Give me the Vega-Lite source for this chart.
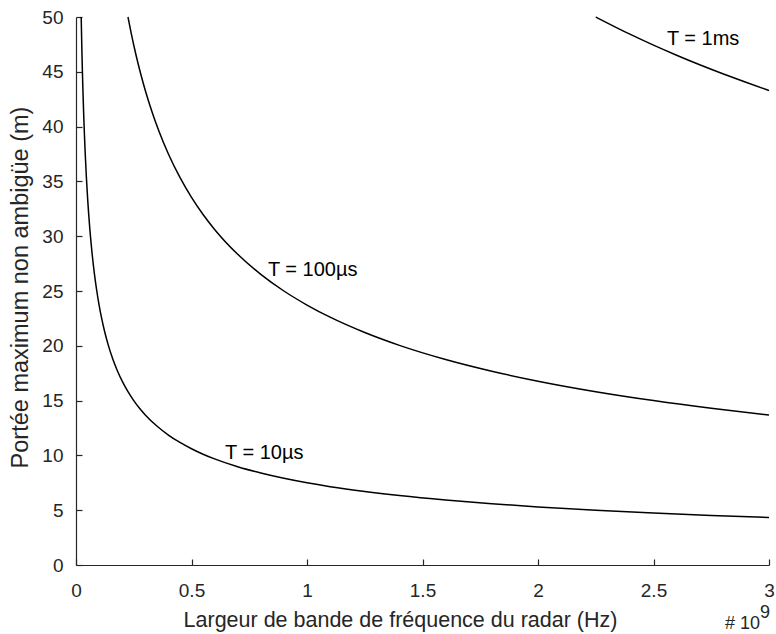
{
  "$schema": "https://vega.github.io/schema/vega-lite/v6.json",
  "width": 693,
  "height": 548,
  "autosize": "none",
  "padding": {"left": 76, "top": 17, "right": 7, "bottom": 69},
  "background": "white",
  "config": {
    "view": {"stroke": null},
    "font": "Liberation Sans",
    "axis": {
      "grid": false,
      "domainColor": "#262626",
      "domainWidth": 1.2,
      "tickColor": "#262626",
      "tickWidth": 1.2,
      "tickSize": -6,
      "labelColor": "#262626",
      "labelFont": "Liberation Sans",
      "labelFontSize": 19,
      "labelFlush": false,
      "labelOverlap": false,
      "titleColor": "#262626",
      "titleFont": "Liberation Sans",
      "titleFontSize": 21.5,
      "titleFontWeight": "normal"
    }
  },
  "datasets": {
    "curves": [
      {"x": 0.0225, "y": 50.0, "T": "10us"},
      {"x": 0.024, "y": 48.41, "T": "10us"},
      {"x": 0.026, "y": 46.51, "T": "10us"},
      {"x": 0.028, "y": 44.82, "T": "10us"},
      {"x": 0.03, "y": 43.30, "T": "10us"},
      {"x": 0.033, "y": 41.29, "T": "10us"},
      {"x": 0.036, "y": 39.53, "T": "10us"},
      {"x": 0.04, "y": 37.5, "T": "10us"},
      {"x": 0.045, "y": 35.36, "T": "10us"},
      {"x": 0.05, "y": 33.54, "T": "10us"},
      {"x": 0.055, "y": 31.98, "T": "10us"},
      {"x": 0.06, "y": 30.62, "T": "10us"},
      {"x": 0.07, "y": 28.35, "T": "10us"},
      {"x": 0.08, "y": 26.52, "T": "10us"},
      {"x": 0.09, "y": 25.0, "T": "10us"},
      {"x": 0.1, "y": 23.72, "T": "10us"},
      {"x": 0.11, "y": 22.61, "T": "10us"},
      {"x": 0.125, "y": 21.21, "T": "10us"},
      {"x": 0.14, "y": 20.04, "T": "10us"},
      {"x": 0.16, "y": 18.75, "T": "10us"},
      {"x": 0.18, "y": 17.68, "T": "10us"},
      {"x": 0.2, "y": 16.77, "T": "10us"},
      {"x": 0.225, "y": 15.81, "T": "10us"},
      {"x": 0.25, "y": 15.0, "T": "10us"},
      {"x": 0.275, "y": 14.30, "T": "10us"},
      {"x": 0.3, "y": 13.69, "T": "10us"},
      {"x": 0.35, "y": 12.68, "T": "10us"},
      {"x": 0.4, "y": 11.86, "T": "10us"},
      {"x": 0.45, "y": 11.18, "T": "10us"},
      {"x": 0.5, "y": 10.61, "T": "10us"},
      {"x": 0.55, "y": 10.11, "T": "10us"},
      {"x": 0.6, "y": 9.68, "T": "10us"},
      {"x": 0.7, "y": 8.96, "T": "10us"},
      {"x": 0.8, "y": 8.39, "T": "10us"},
      {"x": 0.9, "y": 7.91, "T": "10us"},
      {"x": 1.0, "y": 7.5, "T": "10us"},
      {"x": 1.1, "y": 7.15, "T": "10us"},
      {"x": 1.25, "y": 6.71, "T": "10us"},
      {"x": 1.4, "y": 6.34, "T": "10us"},
      {"x": 1.6, "y": 5.93, "T": "10us"},
      {"x": 1.8, "y": 5.59, "T": "10us"},
      {"x": 2.0, "y": 5.30, "T": "10us"},
      {"x": 2.25, "y": 5.0, "T": "10us"},
      {"x": 2.5, "y": 4.74, "T": "10us"},
      {"x": 2.75, "y": 4.52, "T": "10us"},
      {"x": 3.0, "y": 4.33, "T": "10us"},
      {"x": 0.225, "y": 50.0, "T": "100us"},
      {"x": 0.24, "y": 48.41, "T": "100us"},
      {"x": 0.26, "y": 46.51, "T": "100us"},
      {"x": 0.28, "y": 44.82, "T": "100us"},
      {"x": 0.3, "y": 43.30, "T": "100us"},
      {"x": 0.33, "y": 41.29, "T": "100us"},
      {"x": 0.36, "y": 39.53, "T": "100us"},
      {"x": 0.4, "y": 37.5, "T": "100us"},
      {"x": 0.45, "y": 35.36, "T": "100us"},
      {"x": 0.5, "y": 33.54, "T": "100us"},
      {"x": 0.55, "y": 31.98, "T": "100us"},
      {"x": 0.6, "y": 30.62, "T": "100us"},
      {"x": 0.7, "y": 28.35, "T": "100us"},
      {"x": 0.8, "y": 26.52, "T": "100us"},
      {"x": 0.9, "y": 25.0, "T": "100us"},
      {"x": 1.0, "y": 23.72, "T": "100us"},
      {"x": 1.1, "y": 22.61, "T": "100us"},
      {"x": 1.25, "y": 21.21, "T": "100us"},
      {"x": 1.4, "y": 20.04, "T": "100us"},
      {"x": 1.6, "y": 18.75, "T": "100us"},
      {"x": 1.8, "y": 17.68, "T": "100us"},
      {"x": 2.0, "y": 16.77, "T": "100us"},
      {"x": 2.25, "y": 15.81, "T": "100us"},
      {"x": 2.5, "y": 15.0, "T": "100us"},
      {"x": 2.75, "y": 14.30, "T": "100us"},
      {"x": 3.0, "y": 13.69, "T": "100us"},
      {"x": 2.25, "y": 50.0, "T": "1ms"},
      {"x": 2.4, "y": 48.41, "T": "1ms"},
      {"x": 2.5, "y": 47.43, "T": "1ms"},
      {"x": 2.6, "y": 46.51, "T": "1ms"},
      {"x": 2.7, "y": 45.64, "T": "1ms"},
      {"x": 2.8, "y": 44.82, "T": "1ms"},
      {"x": 2.9, "y": 44.04, "T": "1ms"},
      {"x": 3.0, "y": 43.30, "T": "1ms"}
    ],
    "labels": [
      {"x": 2.558, "y": 48.0, "text": "T = 1ms"},
      {"x": 0.831, "y": 26.9, "text": "T = 100µs"},
      {"x": 0.645, "y": 10.26, "text": "T = 10µs"}
    ]
  },
  "layer": [
    {
      "data": {"name": "curves"},
      "mark": {"type": "line", "color": "black", "strokeWidth": 1.5, "interpolate": "monotone"},
      "encoding": {
        "x": {
          "field": "x", "type": "quantitative",
          "scale": {"domain": [0, 3], "nice": false},
          "axis": {"values": [0, 0.5, 1, 1.5, 2, 2.5, 3], "format": "~g", "title": "Largeur de bande de fréquence du radar (Hz)", "labelPadding": 22, "titlePadding": 9, "titleX": 324}
        },
        "y": {
          "field": "y", "type": "quantitative",
          "scale": {"domain": [0, 50], "nice": false},
          "axis": {"values": [0, 5, 10, 15, 20, 25, 30, 35, 40, 45, 50], "title": "Portée maximum non ambigüe (m)", "titleFontSize": 23.5, "labelPadding": 19, "titlePadding": 9, "titleY": 270}
        },
        "detail": {"field": "T", "type": "nominal"}
      }
    },
    {
      "data": {"name": "labels"},
      "mark": {"type": "text", "align": "left", "baseline": "middle", "fontSize": 20, "font": "Liberation Sans", "color": "black"},
      "encoding": {
        "x": {"field": "x", "type": "quantitative"},
        "y": {"field": "y", "type": "quantitative"},
        "text": {"field": "text"}
      }
    },
    {
      "data": {"values": [{"t": "# 10"}]},
      "mark": {"type": "text", "align": "right", "baseline": "alphabetic", "fontSize": 18, "font": "Liberation Sans", "color": "#262626", "dx": -9, "dy": 64},
      "encoding": {
        "x": {"datum": 3},
        "y": {"datum": 0},
        "text": {"field": "t"}
      }
    },
    {
      "data": {"values": [{"t": "9"}]},
      "mark": {"type": "text", "align": "right", "baseline": "alphabetic", "fontSize": 18, "font": "Liberation Sans", "color": "#262626", "dx": 1, "dy": 53},
      "encoding": {
        "x": {"datum": 3},
        "y": {"datum": 0},
        "text": {"field": "t"}
      }
    }
  ]
}
